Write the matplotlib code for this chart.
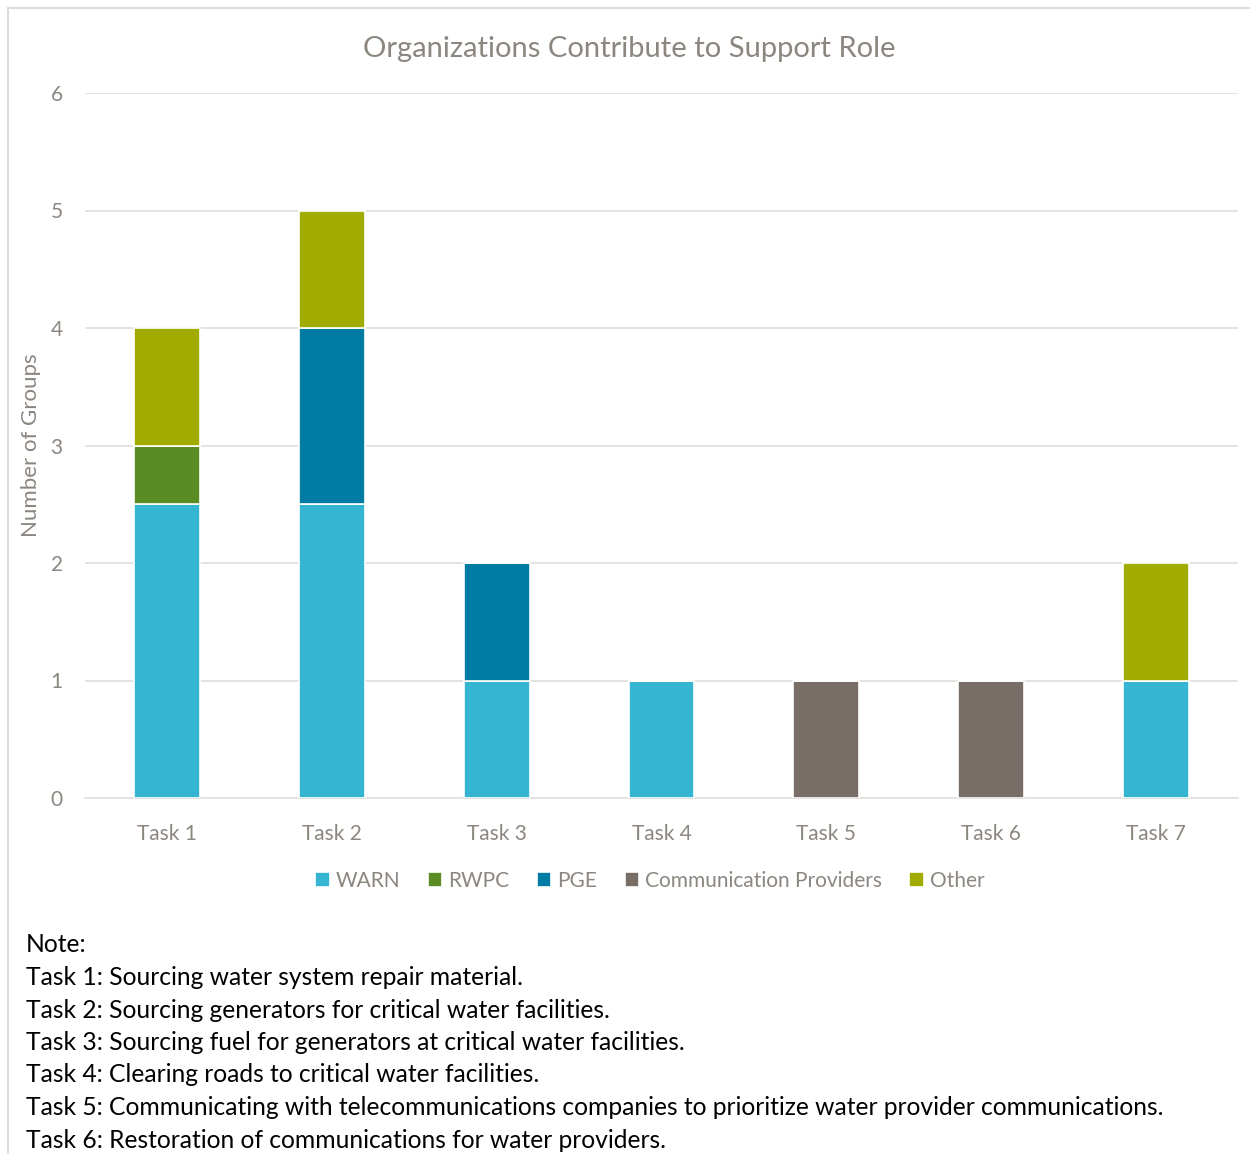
import numpy as np
import matplotlib.pyplot as plt
from matplotlib.patches import Rectangle

# data
tasks = ['Task 1', 'Task 2', 'Task 3', 'Task 4', 'Task 5', 'Task 6', 'Task 7']
warn = [2.5, 2.5, 1, 1, 0, 0, 1]
rwpc = [0.5, 0, 0, 0, 0, 0, 0]
pge = [0, 1.5, 1, 0, 0, 0, 0]
comm = [0, 0, 0, 0, 1, 1, 0]
other = [1, 1, 0, 0, 0, 0, 1]

series = [('WARN', warn, '#35b5d1'),
          ('RWPC', rwpc, '#5b8c23'),
          ('PGE', pge, '#007ba3'),
          ('Communication Providers', comm, '#786e67'),
          ('Other', other, '#a2ac00')]

notes = ['Note:',
         'Task 1: Sourcing water system repair material.',
         'Task 2: Sourcing generators for critical water facilities.',
         'Task 3: Sourcing fuel for generators at critical water facilities.',
         'Task 4: Clearing roads to critical water facilities.',
         'Task 5: Communicating with telecommunications companies to prioritize water provider communications.',
         'Task 6: Restoration of communications for water providers.']

plt.rcParams['font.family'] = ['Lato', 'DejaVu Sans']
grey = '#8c8680'

W, H = 1250, 1154
fig = plt.figure(figsize=(W / 100, H / 100), dpi=100)
ax = fig.add_axes([85 / W, 1 - 798 / H, (1238 - 85) / W, (798 - 93) / H])

x = np.arange(len(tasks))
bottom = np.zeros(len(tasks))
for name, vals, col in series:
    vals = np.array(vals, dtype=float)
    ax.bar(x, vals, 0.4, bottom=bottom, color=col, label=name,
           edgecolor='white', linewidth=1.2, zorder=3)
    bottom += vals

ax.set_xlim(-0.5, len(tasks) - 0.5)
ax.set_ylim(0, 6)
ax.set_yticks(range(7))
ax.set_xticks(x)
ax.set_xticklabels(tasks)
ax.grid(axis='y', color='#e3e0dd', linewidth=1.3, zorder=0)
for s in ['top', 'right', 'left']:
    ax.spines[s].set_visible(False)
ax.spines['bottom'].set_color('#e3e0dd')
ax.spines['bottom'].set_linewidth(1.3)
ax.tick_params(axis='both', length=0, labelsize=15, labelcolor=grey)
ax.tick_params(axis='y', pad=16)
ax.tick_params(axis='x', pad=19)

fig.text(31 / W, 1 - 445 / H, 'Number of Groups', rotation=90,
         ha='center', va='center', fontsize=16, color=grey)

fig.text(629 / W, 1 - 49 / H, 'Organizations Contribute to Support Role',
         ha='center', va='center', fontsize=21, color=grey)

leg = fig.legend(loc='center', bbox_to_anchor=(650 / W, 1 - 881 / H), ncol=5,
                 frameon=False, fontsize=15, handlelength=0.7, handleheight=0.7,
                 handletextpad=0.3, columnspacing=1.3)
for t in leg.get_texts():
    t.set_color(grey)

for i, line in enumerate(notes):
    fig.text(26 / W, 1 - (945 + 32.5 * i) / H, line, ha='left', va='center',
             fontsize=17.7, color='black')

# chart border
fig.patches.append(Rectangle((8 / W, -0.01), 1.1, 1 - 8 / H + 0.01, transform=fig.transFigure,
                             fill=False, edgecolor='#dcdcdc', linewidth=1.5))

fig.savefig('out.png', dpi=100, facecolor='white')
